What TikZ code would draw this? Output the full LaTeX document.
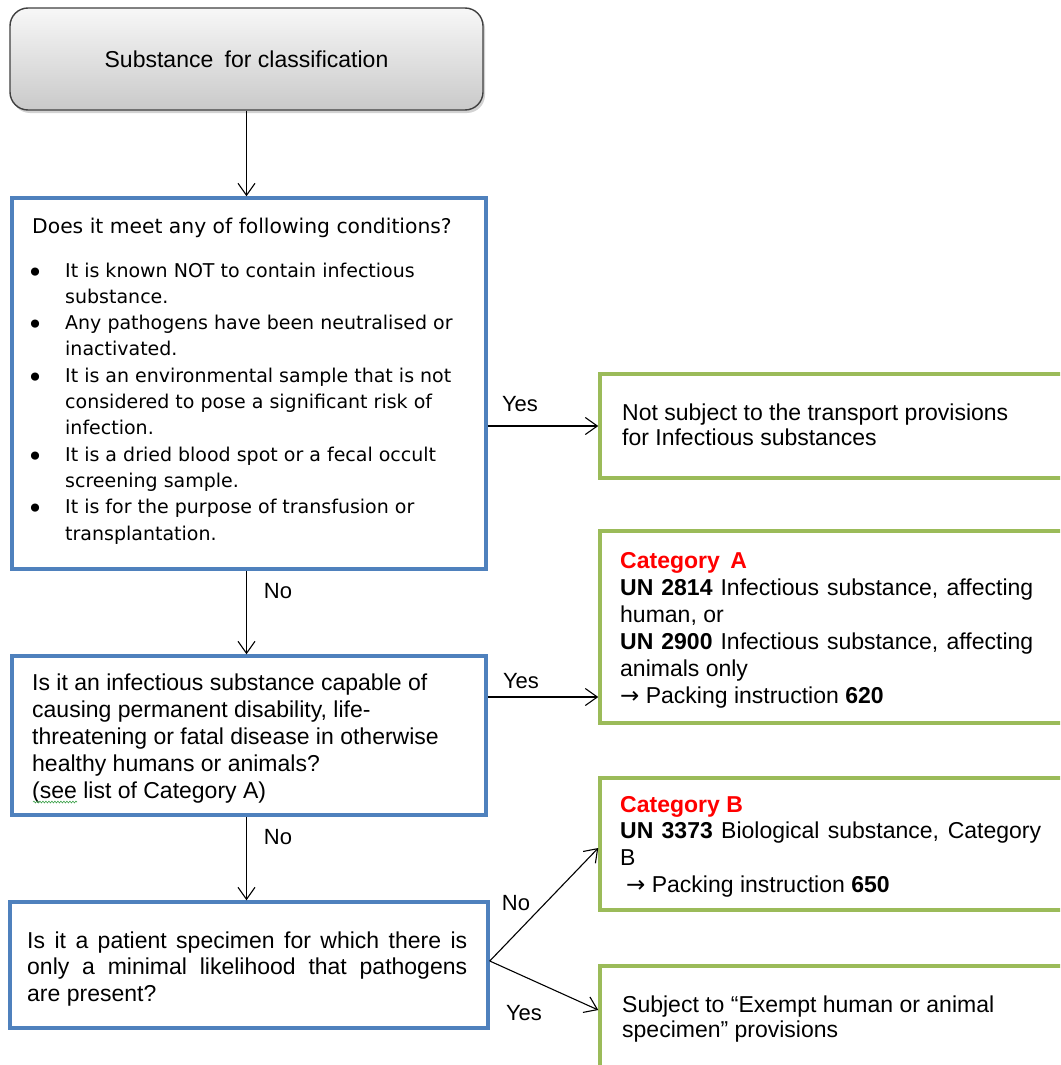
\documentclass[tikz,border=0pt]{standalone}
\usepackage{fontspec}
\setmainfont{Liberation Sans}
\newfontfamily\vfont{DejaVu Sans}
\usetikzlibrary{arrows.meta,shadows,decorations.pathmorphing}

\definecolor{qblue}{HTML}{4F81BD}
\definecolor{rgreen}{HTML}{9BBB59}
\definecolor{catred}{HTML}{FF0000}
\definecolor{squiggle}{HTML}{3FA34D}

% hanging bullet paragraph for the condition list
\newcommand\bulletline{\noindent\hangindent=33pt\hangafter=1%
  \makebox[33pt][l]{\hspace{-5.3pt}\raisebox{-5pt}{\fontsize{28}{26.3}\selectfont •}}}
% arrow glyph used before the packing instructions
\newcommand\pkarrow{{\vfont →}}

\begin{document}
\begin{tikzpicture}[x=1pt,y=-1pt,
  startbox/.style={draw=black!75, line width=1.4pt, rounded corners=18pt,
    top color=gray!6, bottom color=gray!42,
    drop shadow={shadow xshift=2pt, shadow yshift=-3pt, opacity=0.35},
    minimum width=473pt, minimum height=102pt, inner sep=0pt,
    font=\fontsize{23}{27}\selectfont},
  qbox/.style={draw=qblue, line width=3.5pt, fill=white, inner sep=0pt},
  rbox/.style={draw=rgreen, line width=3.5pt, fill=white, inner sep=0pt,
    minimum width=480pt},
  txt/.style={inner sep=0pt, anchor=base west, align=justify,
    font=\fontsize{23}{27}\selectfont},
  flow/.style={draw=black, line width=1.1pt,
    -{Straight Barb[length=12pt,width=17pt]}},
  lbl/.style={inner sep=0pt, font=\fontsize{22}{26}\selectfont}
]
\useasboundingbox (0,0) rectangle (1060,1065);
\fill[white] (0,0) rectangle (1060,1065);
\clip (0,0) rectangle (1060,1065);

% start
\node[startbox] (start) at (246.5,59) {Substance\hspace{5pt} for classification};

% question 1
\node[qbox, minimum width=474pt, minimum height=371pt] (q1) at (249,383.5) {};
\node[txt, text width=440pt] (q1text) at (32,233) {%
  {\vfont\fontsize{20.3}{26.3}\selectfont Does it meet any of following conditions?}\par
  \vspace{17.7pt}%
  \vfont\fontsize{19}{26.3}\selectfont
  \bulletline It is known NOT to contain infectious\newline substance.\par
  \bulletline Any pathogens have been neutralised or\newline inactivated.\par
  \bulletline It is an environmental sample that is not\newline considered to pose a significant risk of\newline infection.\par
  \bulletline It is a dried blood spot or a fecal occult\newline screening sample.\par
  \bulletline It is for the purpose of transfusion or\newline transplantation.\par};

% question 2
\node[qbox, minimum width=474pt, minimum height=159pt] (q2) at (249,735.5) {};
\node[txt, text width=440pt] (q2text) at (32,690) {%
  Is it an infectious substance capable of\newline
  causing permanent disability, life-\newline
  threatening or fatal disease in otherwise\newline
  healthy humans or animals?\newline
  (see list of Category A)};
\draw[squiggle, line width=0.6pt, decorate,
  decoration={snake, amplitude=0.9pt, segment length=3pt}]
  ([xshift=1pt,yshift=-4pt]q2text.base west |- 0,798) -- ++(44,0);

% question 3
\node[qbox, minimum width=478pt, minimum height=126pt] (q3) at (249,965) {};
\node[txt, text width=440pt, font=\fontsize{23}{26.5}\selectfont] (q3text) at (27,948) {%
  Is it a patient specimen for which there is\linebreak
  only a minimal likelihood that pathogens\linebreak
  are present?};

% outcomes
\node[rbox, minimum height=104pt] (r1) at (840,426) {};
\node[txt, text width=430pt, font=\fontsize{23}{25}\selectfont] (r1text) at (622,420) {%
  Not subject to the transport provisions\newline
  for Infectious substances};

\node[rbox, minimum height=192pt] (r2) at (840,627) {};
\node[txt, text width=413pt] (r2text) at (620,568) {%
  {\bfseries\color{catred}Category\hspace{4pt} A}\newline
  {\bfseries UN 2814} Infectious substance, affecting\linebreak
  human, or\newline
  {\bfseries UN 2900} Infectious substance, affecting\linebreak
  animals only\newline
  \pkarrow\ Packing instruction {\bfseries 620}};

\node[rbox, minimum height=132pt] (r3) at (840,844) {};
\node[txt, text width=421pt, font=\fontsize{23}{26.7}\selectfont] (r3text) at (620,812) {%
  {\bfseries\color{catred}Category B}\newline
  {\bfseries UN 3373} Biological substance, Category\linebreak
  B\newline
  \hspace*{6pt}\pkarrow\ Packing instruction {\bfseries 650}};

\node[rbox, minimum height=104pt] (r4) at (840,1018) {};
\node[txt, text width=430pt, font=\fontsize{23}{25}\selectfont] (r4text) at (622,1012) {%
  Subject to “Exempt human or animal\newline
  specimen” provisions};

% connectors
\draw[flow] (start.south) -- (start.south |- q1.north);
\draw[flow] (q1.south -| start.south) -- (start.south |- q2.north);
\draw[flow] (q2.south -| start.south) -- (start.south |- q3.north);
\draw[flow] (q1.east |- r1.west) -- (r1.west);
\draw[flow] ([yshift=38.5pt]q2.east) -- ([yshift=38.5pt]q2.east -| r2.west);
\draw[flow] ([yshift=4pt]q3.east) -- ([yshift=-4pt]r3.west);
\draw[flow] ([yshift=4pt]q3.east) -- ([yshift=8pt]r4.west);

% branch labels
\node[lbl] (yes1) at (520,404) {Yes};
\node[lbl] (no1) at (278,591) {No};
\node[lbl] (yes2) at (521,681) {Yes};
\node[lbl] (no2) at (278,837) {No};
\node[lbl] (no3) at (516,903) {No};
\node[lbl] (yes3) at (524,1013) {Yes};
\end{tikzpicture}
\end{document}
